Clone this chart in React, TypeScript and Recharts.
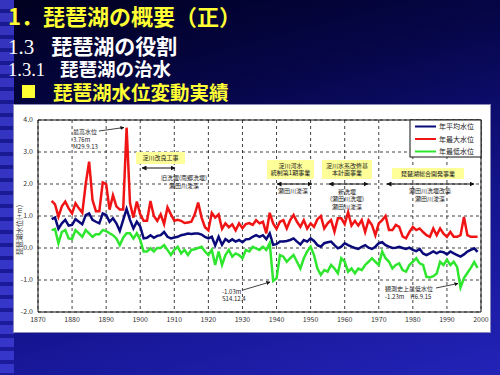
import { LineChart, Line, XAxis, YAxis, CartesianGrid, ReferenceArea } from 'recharts';

// 琵琶湖水位 (m), 1874-1999
const years = Array.from({ length: 126 }, (_, i) => 1874 + i);

const maxLevel = [
  1.47, 1.36, 0.98, 1.3, 1.45, 1.24,
  1.08, 1.4, 1.24, 1.1, 2.0, 2.7, 1.5, 1.15, 1.15, 2.05,
  2.0, 1.2, 1.65, 1.3, 1.2, 1.2, 3.76, 1.4, 0.95, 1.45,
  1.05, 0.85, 0.85, 1.47, 1.0, 0.85, 1.05, 0.75, 1.27, 1.05,
  0.85, 0.88, 0.85, 0.78, 0.8, 0.82, 1.05, 1.42, 0.95, 0.65,
  0.55, 1.1, 0.95, 1.05, 0.6, 0.77, 0.65, 0.74, 0.55, 0.77,
  0.62, 0.75, 0.78, 0.72, 0.87, 0.77, 0.82, 0.46, 1.1, 0.77,
  0.6, 0.82, 0.87, 0.61, 0.87, 1.03, 0.82, 0.66, 0.87, 0.61,
  0.77, 0.66, 0.9, 1.0, 0.61, 0.77, 0.87, 0.51, 0.93, 0.93,
  0.75, 1.12, 0.7, 0.85, 0.7, 0.87, 0.5, 0.87, 0.72, 0.4,
  0.77, 0.87, 1.0, 0.56, 0.56, 0.72, 0.66, 0.36, 0.3, 0.5,
  0.66, 0.56, 0.61, 0.5, 0.4, 0.35, 0.61, 0.4, 0.61, 0.45,
  0.35, 0.5, 0.35, 0.35, 0.4, 0.97, 0.4, 0.35, 0.35, 0.35,
];

const meanLevel = [
  0.9, 0.95, 0.6, 0.77, 0.88, 0.7,
  0.72, 0.9, 0.82, 0.74, 1.03, 1.08, 0.88, 0.82, 0.77, 1.08,
  1.03, 0.82, 0.93, 0.77, 0.53, 0.88, 1.22, 0.88, 0.61, 0.82,
  0.67, 0.3, 0.32, 0.4, 0.32, 0.38, 0.4, 0.5, 0.35, 0.3,
  0.33, 0.35, 0.4, 0.42, 0.45, 0.44, 0.45, 0.45, 0.42, 0.35,
  0.3, 0.35, 0.08, 0.35, 0.1, 0.28, 0.2, 0.27, 0.2, 0.25,
  0.18, 0.27, 0.28, 0.35, 0.4, 0.35, 0.4, 0.28, 0.46, 0.1,
  0.12, 0.2, 0.2, 0.22, 0.25, 0.3, 0.2, 0.11, 0.25, 0.2,
  0.3, 0.22, 0.09, 0.04, 0.15, 0.18, 0.2, 0.09, -0.01, 0.04,
  0.15, 0.09, 0.04, 0.0, -0.03, 0.04, 0.09, 0.01, -0.03, 0.04,
  0.15, 0.18, 0.09, 0.04, 0.0, 0.01, 0.04, 0.0, -0.03, 0.01,
  -0.06, -0.1, -0.03, -0.17, -0.22, -0.17, -0.11, -0.17, -0.11, -0.13,
  -0.2, -0.11, -0.17, -0.22, -0.27, -0.2, -0.11, -0.06, -0.01, -0.12,
];

const minLevel = [
  0.56, 0.59, 0.15, 0.5, 0.56, 0.3,
  0.28, 0.56, 0.46, 0.35, 0.56, 0.46, 0.35, 0.43, 0.43, 0.56,
  0.53, 0.46, 0.4, 0.3, 0.09, 0.32, 0.46, 0.46, 0.3, 0.46,
  0.25, -0.11, -0.11, -0.01, -0.11, 0.0, 0.0, 0.09, -0.06, -0.22,
  -0.06, 0.04, -0.17, -0.06, -0.22, -0.06, -0.04, 0.0, 0.04, -0.11,
  -0.22, -0.06, -0.53, -0.11, -0.53, -0.22, -0.06, -0.27, -0.17, -0.22,
  -0.32, -0.06, -0.11, 0.04, -0.01, -0.06, 0.04, -0.06, 0.15, -1.03,
  -0.95, -0.22, -0.27, -0.43, -0.32, -0.22, -0.43, -0.64, -0.32, -0.11,
  0.04, -0.22, -0.64, -0.84, -0.69, -0.74, -0.53, -0.64, -0.79, -0.32,
  -0.43, -0.74, -0.64, -0.79, -0.64, -0.69, -0.53, -0.43, -0.32, -0.43,
  -0.53, -0.11, -0.32, -0.43, -0.64, -0.53, -0.48, -0.69, -0.74, -0.53,
  -0.43, -0.32, -0.48, -0.53, -0.9, -0.92, -0.88, -0.8, -0.43, -0.53,
  -0.37, -0.53, -0.43, -0.6, -1.23, -0.94, -0.78, -0.62, -0.44, -0.62,
];

const xTicks = [1870, 1880, 1890, 1900, 1910, 1920, 1930, 1940, 1950, 1960, 1970, 1980, 1990, 2000];
const yTicks = [-2, -1, 0, 1, 2, 3, 4];

const series = [
  { key: 'mean', name: '年平均水位', color: '#0a0a7a' },
  { key: 'max', name: '年最大水位', color: '#f01414' },
  { key: 'min', name: '年最低水位', color: '#2ee62e' },
];

const data = years.map((year, i) => ({
  year,
  mean: meanLevel[i],
  max: maxLevel[i],
  min: minLevel[i],
}));

const cjk = '"Noto Sans CJK JP", "Noto Sans", sans-serif';
const FS = 6;
const LH = 7.5;

function Note({ x, y, lines, anchor = 'middle' }: { x: number; y: number; lines: string[]; anchor?: string }) {
  return (
    <g>
      {lines.map((l, i) => (
        <text key={i} x={x} y={y + i * LH} fontSize={FS} fill="#222" textAnchor={anchor as any} fontFamily={cjk}>
          {l}
        </text>
      ))}
    </g>
  );
}

function Box({ x, y, w, h, lines }: { x: number; y: number; w: number; h: number; lines: string[] }) {
  const cx = x + w / 2;
  const first = y + h / 2 + 2.1 - (lines.length - 1) * (LH / 2);
  return (
    <g>
      <rect x={x} y={y} width={w} height={h} fill="#ffff99" />
      {lines.map((l, i) => (
        <text key={i} x={cx} y={first + i * LH} fontSize={FS} fill="#222" textAnchor="middle" fontFamily={cjk}>
          {l}
        </text>
      ))}
    </g>
  );
}

function Span({ x1, x2, y }: { x1: number; x2: number; y: number }) {
  return <line x1={x1} y1={y} x2={x2} y2={y} stroke="#111" strokeWidth={1} markerStart="url(#ah)" markerEnd="url(#ah)" />;
}

export default function App() {
  return (
    <div
      style={{
        position: 'absolute',
        left: 0,
        top: 0,
        width: 500,
        height: 375,
        overflow: 'hidden',
        background: 'linear-gradient(165deg, #00001e 0%, #06064a 30%, #14148f 65%, #2323b8 100%)',
      }}
    >
      {/* left strip */}
      <div
        style={{
          position: 'absolute',
          left: 0,
          top: 0,
          width: 14,
          height: 375,
          backgroundColor: '#1c1c9c',
          backgroundImage:
            'repeating-linear-gradient(to bottom, #3a3ad0 0px, #3a3ad0 9px, #1c1c9c 9px, #1c1c9c 13px), linear-gradient(to right, transparent 0px, transparent 2px, #1c1c9c 2px)',
          opacity: 0.9,
        }}
      />

      <div style={{ position: 'absolute', left: 8, top: 4, fontFamily: cjk, fontWeight: 700, fontSize: 22, lineHeight: 1, color: '#ffff33', whiteSpace: 'nowrap' }}>
        1．琵琶湖の概要（正）
      </div>
      <div style={{ position: 'absolute', left: 8, top: 35, fontSize: 21, lineHeight: 1, color: '#fff', whiteSpace: 'nowrap' }}>
        <span style={{ fontFamily: '"Liberation Serif", serif' }}>1.3</span>
        <span style={{ fontFamily: cjk, fontWeight: 700, marginLeft: 17 }}>琵琶湖の役割</span>
      </div>
      <div style={{ position: 'absolute', left: 8, top: 59, fontSize: 18.5, lineHeight: 1, color: '#fff', whiteSpace: 'nowrap' }}>
        <span style={{ fontFamily: '"Liberation Serif", serif' }}>1.3.1</span>
        <span style={{ fontFamily: cjk, fontWeight: 700, marginLeft: 15 }}>琵琶湖の治水</span>
      </div>
      <div style={{ position: 'absolute', left: 22, top: 82, fontFamily: cjk, fontWeight: 700, fontSize: 19.5, lineHeight: 1, color: '#ffff33', whiteSpace: 'nowrap' }}>
        <span style={{ display: 'inline-block', width: 13, height: 13, background: '#ffff33', marginRight: 18, verticalAlign: 'top', marginTop: 3 }} />
        琵琶湖水位変動実績
      </div>

      {/* chart panel */}
      <div
        style={{
          position: 'absolute',
          left: 14,
          top: 105,
          width: 476,
          height: 227,
          background: '#fff',
          boxShadow: '0 0 0 1px #8a8ab8',
        }}
      >
        <LineChart width={476} height={227} data={data} margin={{ top: 15, right: 9, left: 0, bottom: 0 }} style={{ fontFamily: cjk }}>
          <CartesianGrid stroke="#111" strokeDasharray="3 3" strokeWidth={0.8} />
          <XAxis
            dataKey="year"
            type="number"
            domain={[1870, 2000]}
            ticks={xTicks}
            interval={0}
            height={20}
            axisLine={false}
            tickLine={false}
            tickSize={3}
            tickMargin={2}
            tick={{ fontSize: 7, fill: '#333' }}
          />
          <YAxis
            type="number"
            domain={[-2, 4]}
            ticks={yTicks}
            interval={0}
            width={24}
            axisLine={false}
            tickLine={false}
            tickSize={3}
            tickMargin={2}
            tickFormatter={(v: number) => v.toFixed(1)}
            tick={{ fontSize: 7, fill: '#333' }}
          />
          <ReferenceArea x1={1870} x2={2000} y1={-2} y2={4} fill="none" fillOpacity={0} stroke="#111" strokeWidth={1} ifOverflow="visible" />
          {series.map((s) => (
            <Line
              key={s.key}
              type="linear"
              dataKey={s.key}
              name={s.name}
              stroke={s.color}
              strokeWidth={2.5}
              dot={false}
              isAnimationActive={false}
            />
          ))}
        </LineChart>
      </div>

      {/* annotations and legend */}
      <svg width={500} height={375} style={{ position: 'absolute', left: 0, top: 0, pointerEvents: 'none' }}>
        <defs>
          <marker id="ah" viewBox="0 0 10 10" refX="9" refY="5" markerWidth="5" markerHeight="5" orient="auto-start-reverse">
            <path d="M0,0 L10,5 L0,10 z" fill="#111" />
          </marker>
        </defs>

        <text x={22} y={230} fontSize={7} fill="#333" textAnchor="middle" fontFamily={cjk} transform="rotate(-90 22 230)">
          琵琶湖水位(+m)
        </text>

        <Note x={73} y={134} lines={['最高水位', '3.76m', 'M29.9.13']} anchor="start" />
        <line x1={99} y1={131} x2={124} y2={127.5} stroke="#111" strokeWidth={0.8} markerEnd="url(#ah)" />

        <Box x={136} y={152} w={49} h={12} lines={['淀川改良工事']} />
        <Span x1={142} x2={175} y={168} />
        <Note x={184} y={180} lines={['旧洗堰(南郷洗堰)', '瀬田川浚渫']} />

        <Box x={267} y={160} w={47} h={19} lines={['淀川河水', '統制第1期事業']} />
        <Span x1={277} x2={312} y={184} />
        <Note x={293} y={193} lines={['瀬田川浚渫']} />

        <Box x={322} y={160} w={50} h={19} lines={['淀川水系改修基', '本計画事業']} />
        <Span x1={329} x2={368} y={184} />
        <Note x={347} y={193.5} lines={['新洗堰', '(瀬田川洗堰)', '瀬田川浚渫']} />

        <Box x={392} y={168} w={72} h={11} lines={['琵琶湖総合開発事業']} />
        <Span x1={387} x2={474} y={184} />
        <Note x={430} y={193} lines={['瀬田川洗堰改築', '瀬田川浚渫']} />

        <Note x={222} y={293.5} lines={['-1.03m', 'S14.12.4']} anchor="start" />
        <line x1={243} y1={290} x2={270} y2={282} stroke="#111" strokeWidth={0.8} markerEnd="url(#ah)" />

        <Note x={385} y={291} lines={['観測史上最低水位', '-1.23m　H6.9.15']} anchor="start" />
        <line x1={436} y1={288} x2={458} y2={283.5} stroke="#111" strokeWidth={0.8} markerEnd="url(#ah)" />

        <rect x={410} y={120} width={71} height={37} fill="#fff" stroke="#111" strokeWidth={1} />
        {series.map((s, i) => (
          <g key={s.key}>
            <line x1={415} x2={436} y1={126.5 + i * 12.5} y2={126.5 + i * 12.5} stroke={s.color} strokeWidth={2} />
            <text x={439} y={129 + i * 12.5} fontSize={7} fill="#222" fontFamily={cjk}>
              {s.name}
            </text>
          </g>
        ))}
      </svg>
    </div>
  );
}
